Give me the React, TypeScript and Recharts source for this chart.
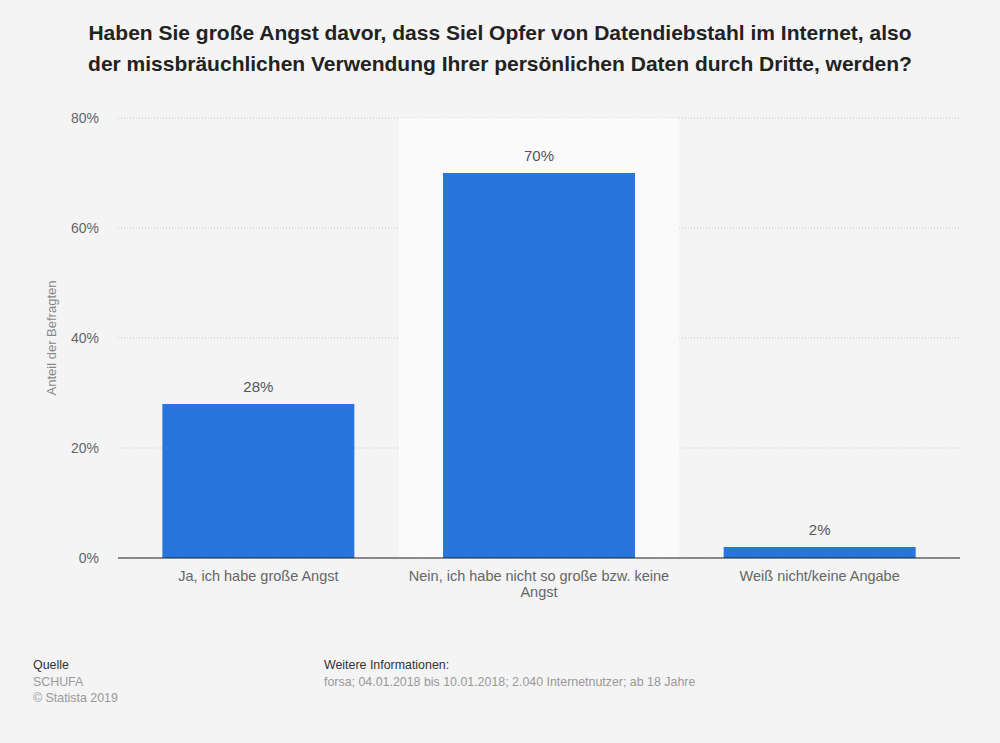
import React from 'react';
import { BarChart, Bar, XAxis, YAxis, CartesianGrid, LabelList, ReferenceArea, Text } from 'recharts';

const categories = [
  'Ja, ich habe große Angst',
  'Nein, ich habe nicht so große bzw. keine Angst',
  'Weiß nicht/keine Angabe',
];
const values = [28, 70, 2];
const yTicks = [0, 20, 40, 60, 80];
const highlighted = categories[1];

const titleLines = [
  'Haben Sie große Angst davor, dass Siel Opfer von Datendiebstahl im Internet, also',
  'der missbräuchlichen Verwendung Ihrer persönlichen Daten durch Dritte, werden?',
];
const yAxisLabel = 'Anteil der Befragten';
const sourceLines = ['SCHUFA', '© Statista 2019'];
const infoText = 'forsa; 04.01.2018 bis 10.01.2018; 2.040 Internetnutzer; ab 18 Jahre';

const data = categories.map((name, i) => ({ name, value: values[i] }));

const FONT = '"Liberation Sans", Arial, Helvetica, sans-serif';

const CategoryTick = (props: any) => {
  const { x, y, payload } = props;
  return (
    <Text
      x={x}
      y={y}
      width={275}
      textAnchor="middle"
      verticalAnchor="start"
      lineHeight={16}
      fontSize={14.5}
      fill="#666"
      fontFamily={FONT}
    >
      {payload.value}
    </Text>
  );
};

const YLabel = (props: any) => {
  const vb = props.viewBox || { x: 0, y: 0, width: 0, height: 0 };
  const cx = vb.x + 53;
  const cy = vb.y + vb.height / 2;
  return (
    <text
      x={cx}
      y={cy}
      transform={`rotate(-90 ${cx} ${cy})`}
      textAnchor="middle"
      dominantBaseline="middle"
      fontSize={13}
      fill="#888"
      fontFamily={FONT}
    >
      {yAxisLabel}
    </text>
  );
};

export default function App() {
  return (
    <div
      style={{
        position: 'absolute',
        left: 0,
        top: 0,
        width: 1000,
        height: 743,
        background: '#f4f4f4',
        fontFamily: FONT,
        overflow: 'hidden',
      }}
    >
      <div
        style={{
          position: 'absolute',
          left: 0,
          top: 17,
          width: 1000,
          textAlign: 'center',
          fontWeight: 'bold',
          fontSize: 21,
          lineHeight: '31px',
          color: '#222',
          whiteSpace: 'nowrap',
        }}
      >
        {titleLines.map((l, i) => (
          <div key={i}>{l}</div>
        ))}
      </div>

      <div style={{ position: 'absolute', left: 0, top: 0 }}>
        <BarChart
          width={1000}
          height={743}
          data={data}
          margin={{ top: 118, right: 40, bottom: 155, left: 0 }}
          barCategoryGap="15.8%"
        >
          <ReferenceArea
            x1={highlighted}
            x2={highlighted}
            y1={0}
            y2={80}
            fill="#fafafa"
            fillOpacity={1}
            stroke="none"
            ifOverflow="visible"
          />
          <CartesianGrid vertical={false} stroke="#c4c4c4" strokeDasharray="1 2" />
          <XAxis
            dataKey="name"
            height={30}
            tickLine={false}
            tickSize={0}
            tickMargin={13}
            axisLine={{ stroke: '#222', strokeWidth: 1 }}
            tick={<CategoryTick />}
            interval={0}
          />
          <YAxis
            width={118}
            domain={[0, 80]}
            ticks={yTicks}
            tickFormatter={(v: number) => `${v}%`}
            axisLine={false}
            tickLine={false}
            tickSize={0}
            tickMargin={19}
            tick={{ fontSize: 14, fill: '#666', fontFamily: FONT }}
            label={<YLabel />}
          />
          <Bar dataKey="value" fill="#2876dd" isAnimationActive={false}>
            <LabelList
              dataKey="value"
              position="top"
              offset={12}
              formatter={(v: number) => `${v}%`}
              style={{ fontSize: 15, fill: '#555', fontFamily: FONT }}
            />
          </Bar>
        </BarChart>
      </div>

      <div style={{ position: 'absolute', left: 33, top: 657, fontSize: 12.4, lineHeight: '16.5px' }}>
        <div style={{ color: '#333' }}>Quelle</div>
        {sourceLines.map((s, i) => (
          <div key={i} style={{ color: '#999' }}>
            {s}
          </div>
        ))}
      </div>
      <div style={{ position: 'absolute', left: 324, top: 657, fontSize: 12.4, lineHeight: '16.5px' }}>
        <div style={{ color: '#333' }}>Weitere Informationen:</div>
        <div style={{ color: '#999' }}>{infoText}</div>
      </div>
    </div>
  );
}
